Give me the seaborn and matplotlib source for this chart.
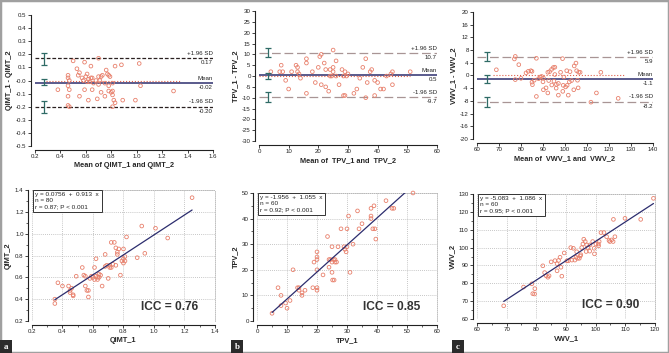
import numpy as np
import pandas as pd
import matplotlib
matplotlib.use('Agg')
import matplotlib.pyplot as plt
from matplotlib.ticker import AutoMinorLocator, FormatStrFormatter
from matplotlib.patches import Rectangle
import seaborn as sns

# Bland-Altman data (mean of the two readings, difference)
qimt_ba_mean = [0.46, 0.46, 0.47, 0.46, 0.47, 0.46, 0.46, 0.47, 0.38, 0.50,
                0.53, 0.54, 0.55, 0.59, 0.58, 0.59, 0.60, 0.61, 0.62, 0.62,
                0.64, 0.64, 0.65, 0.61, 0.69, 0.70, 0.70, 0.71, 0.70, 0.72,
                0.73, 0.75, 0.76, 0.77, 0.78, 0.78, 0.79, 0.78, 0.80, 0.81,
                0.81, 0.82, 0.81, 0.83, 0.83, 0.88, 0.89, 0.99, 1.02, 1.03,
                1.29, 0.72, 0.68, 0.65, 0.55, 0.75, 0.66, 0.57, 0.81, 0.63]
qimt_ba_diff = [0.04, 0.02, 0.00, -0.04, -0.07, -0.12, -0.19, -0.20, -0.07, 0.15,
                0.09, 0.04, -0.12, 0.14, 0.00, -0.07, 0.03, 0.05, 0.01, -0.15,
                0.11, 0.02, -0.07, -0.01, -0.14, 0.17, 0.03, 0.00, -0.03, 0.03,
                0.04, -0.12, 0.08, 0.05, 0.04, -0.08, 0.03, -0.04, -0.09, -0.02,
                -0.11, -0.15, -0.20, -0.17, 0.11, 0.12, -0.15, -0.15, 0.13, -0.04,
                -0.08, -0.09, 0.00, 0.02, 0.06, -0.02, -0.02, 0.02, -0.08, -0.01]

tpv_ba_mean = [4, 7.5, 7, 8, 9, 10, 11, 12.5, 13, 13, 13.5, 16, 16, 16, 20,
               20.5, 21, 21, 22, 22.5, 22.5, 23.5, 24, 24, 25, 25, 25, 24.5, 27, 28,
               28.5, 29, 28.5, 29, 32, 33, 36, 36.5, 36, 37.5, 38, 39, 39, 40, 41,
               42, 44.5, 45, 45, 51, 26, 29.5, 18, 14, 34, 30, 19, 43, 35, 26]
tpv_ba_diff = [2, 5, 2, 2, -2, -6, 2, 5, 4, 2, 1, 8, 6, -8, 4,
               9, 10, -4, 6, 3, -5, -7, 3, 0, 12, 4, 2, 0, -4, 3,
               0, 2, -9, -9, -8, -6, 8, -3, -10, 2, 3, -9, -2, -3, -6,
               -6, 1, 2, -4, 2, 0, 0, 2, -1, -1, 1, -3, 0, 4, 7]

vwv_ba_mean = [77.4, 77, 79, 68.8, 77.4, 80, 82.3, 83.3, 84.5, 85,
               87, 85, 85.2, 87, 88.7, 89.4, 90.2, 90.2, 91.4, 92.2,
               92.6, 92.2, 93, 93.9, 94.7, 95.4, 95, 96.1, 97, 98,
               98.9, 99.5, 99.2, 100.3, 101, 100.8, 101.5, 102.3, 103, 104.2,
               105, 105.3, 106.2, 106, 105.7, 106.9, 111.8, 114.3, 116.3, 124.2,
               95.4, 88, 96, 94, 102, 97, 90, 104, 86, 99]
vwv_ba_diff = [6, 5.2, 3.4, 1.8, -1.3, -0.9, 0.8, 1.3, 1.5, 1.3,
               5.4, -2.1, -2.9, -6.6, -0.5, -0.3, -0.8, -4.5, -3.9, -5.5,
               -1.6, 1, 1.2, 1.9, 2.5, 2.6, -1.8, -2.8, -6.2, 1,
               5.3, -0.5, -3.1, -3.6, -3.1, 1.5, -6.2, 1.2, -1.6, 3,
               3.9, 1.5, 1, -3.9, -1.5, 1, -8.4, -5.5, 1, -7.2,
               0.3, -1, -4, -3, -2, -2.5, -2, -4.5, -1.5, -5]

# limits of agreement: upper, mean, lower
qimt_loa = [0.17, -0.02, -0.20]
tpv_loa = [10.7, 0.5, -9.7]
vwv_loa = [5.9, -1.1, -8.2]
qimt_loa_txt = ['0.17', '-0.02', '-0.20']
tpv_loa_txt = ['10.7', '0.5', '-9.7']
vwv_loa_txt = ['5.9', '-1.1', '-8.2']
# confidence intervals (low, high) for each limit
qimt_ci = [(0.12, 0.21), (-0.035, 0.01), (-0.245, -0.16)]
tpv_ci = [(8.6, 12.8), (-1.4, 1.5), (-12.2, -7.5)]
vwv_ci = [(4.4, 7.4), (-2.3, 0.1), (-9.9, -6.7)]
ci_x = [0.27, 3, 64.5]
zero_span = [(0.29, 1.35), (0, 51), (67.5, 127)]

# scatter data (first reading, second reading)
qimt_1 = [0.35, 0.35, 0.37, 0.40, 0.44, 0.45, 0.45, 0.47, 0.47, 0.49,
          0.53, 0.55, 0.55, 0.56, 0.57, 0.58, 0.61, 0.62, 0.62, 0.63,
          0.64, 0.64, 0.66, 0.68, 0.69, 0.70, 0.71, 0.72, 0.72, 0.74,
          0.75, 0.75, 0.76, 0.76, 0.78, 0.80, 0.80, 0.80, 0.81, 0.82,
          0.89, 0.92, 0.94, 1.01, 1.09, 1.25, 0.60, 0.61, 0.65, 0.71,
          0.79, 0.46, 0.57, 0.63, 0.73, 0.68, 0.54, 0.59, 0.77, 0.81]
qimt_2 = [0.36, 0.40, 0.55, 0.52, 0.52, 0.48, 0.46, 0.44, 0.43, 0.61,
          0.69, 0.61, 0.52, 0.48, 0.42, 0.59, 0.69, 0.77, 0.61, 0.58,
          0.63, 0.60, 0.52, 0.81, 0.71, 0.59, 0.69, 0.92, 0.69, 0.92,
          0.71, 0.87, 0.83, 0.81, 0.62, 0.86, 0.77, 0.73, 0.79, 0.97,
          0.78, 1.07, 0.82, 1.05, 0.96, 1.33, 0.60, 0.58, 0.62, 0.71,
          0.75, 0.50, 0.48, 0.60, 0.72, 0.70, 0.62, 0.61, 0.86, 0.75]

tpv_1 = [5, 7, 8, 8, 9.5, 10, 12, 13.5, 14, 15, 15, 18.6, 19, 20, 20,
         20, 20, 20, 22, 23.5, 24, 24.5, 25, 25, 25.2, 25.7, 25.5, 26, 26.5, 28,
         29.3, 29.7, 30, 30.5, 31, 33.5, 35, 38, 38, 38, 38.6, 39.3, 39.6, 39, 43,
         45, 45.6, 52, 26, 24, 30, 16, 11, 25, 34, 14, 27, 32, 20, 29]
tpv_2 = [3, 13, 10, 6, 7, 5, 20, 13, 12, 11, 10, 13, 23, 24, 25,
         27, 12, 13, 18, 33, 21, 24, 29, 19, 16, 16, 24, 23, 23, 36,
         28, 27, 36, 41, 19, 43, 38, 44, 41, 40, 36, 36, 32, 45, 47,
         44, 44, 50, 24, 24, 29, 12, 8, 23, 36, 13, 29, 30, 20, 29]

vwv_1 = [69, 75.7, 78.5, 78.8, 79.4, 79.5, 82.2, 82.8, 83.3, 83.9,
         84.3, 85, 86.3, 87, 87.5, 88, 88.3, 88.6, 89.4, 90.3,
         90.8, 91.6, 92.5, 93, 93.4, 93.6, 93.9, 94.5, 94.8, 95.3,
         95.7, 96, 96.5, 97, 96.8, 97.4, 98.1, 99, 99.5, 99.6,
         100.1, 100.9, 101.2, 101.8, 102.8, 103.7, 104.5, 104.8, 105.4, 106,
         106.5, 105.9, 109.9, 115.2, 119.5, 95, 92, 101, 87, 98]
vwv_2 = [67.4, 77.9, 79.7, 74.2, 74, 77, 89.8, 86, 84.2, 83.4,
         84.2, 92, 92.7, 91, 92.8, 94.6, 89, 84, 97, 92.6,
         92.6, 100, 99.6, 93, 94.6, 97.7, 94, 94, 95.3, 100,
         102, 104.7, 103.4, 101.5, 97.8, 100, 101.5, 103.4, 99.6, 96.5,
         102, 102, 103.4, 108.4, 108.4, 106.1, 104, 103.4, 104.3, 115.8,
         106.1, 103.4, 116.4, 115.8, 127.6, 96, 93, 101, 87, 98]

# regression results
fits = [(0.0756, 0.913, 0.35, 1.25), (-1.956, 1.055, 5, 49.5), (-5.083, 1.086, 69, 119.5)]
fit_txt = ['y = 0.0756  +  0.913  x\nn = 80\nr = 0.87; P < 0.001',
           'y = -1.956  +  1.055  x\nn = 60\nr = 0.92; P < 0.001',
           'y = -5.083  +  1.086  x\nn = 60\nr = 0.95; P < 0.001']
icc_txt = ['ICC = 0.76', 'ICC = 0.85', 'ICC = 0.90']

sns.set_style('ticks')
plt.rcParams['font.family'] = ['Liberation Sans', 'DejaVu Sans']
plt.rcParams['axes.unicode_minus'] = False

pt_col = '#e8806c'
navy = '#2c2d6e'
teal = '#2f6b66'
grid_col = '#b4b4b4'

fig = plt.figure(figsize=(6.69, 3.53), dpi=100)

top_pos = [[0.0523, 0.5864, 0.266, 0.371],
           [0.3871, 0.6006, 0.266, 0.368],
           [0.713, 0.6062, 0.263, 0.36]]
bot_pos = [[0.0478, 0.0907, 0.2735, 0.371],
           [0.3842, 0.0907, 0.269, 0.3626],
           [0.713, 0.0963, 0.266, 0.354]]

ba_sets = [
    (qimt_ba_mean, qimt_ba_diff, qimt_loa, qimt_loa_txt, qimt_ci,
     (0.2, 1.6, 0.2), (-0.5, 0.5, 0.1), '%.1f', 'QIMT_1 - QIMT_2', 'Mean of QIMT_1 and QIMT_2', '#2a2020'),
    (tpv_ba_mean, tpv_ba_diff, tpv_loa, tpv_loa_txt, tpv_ci,
     (0, 60, 10), (-30, 30, 5), '%d', 'TPV_1 - TPV_2', 'Mean of  TPV_1 and  TPV_2', '#a89595'),
    (vwv_ba_mean, vwv_ba_diff, vwv_loa, vwv_loa_txt, vwv_ci,
     (60, 140, 10), (-20, 20, 4), '%d', 'VWV_1 - VWV_2', 'Mean of  VWV_1 and  VWV_2', '#a89595'),
]

tick_fs = 4.4
lab_fs = 5.3

for i, (mx, dy, loa, loa_txt, ci, xr, yr, fmt, ylab, xlab, lim_col) in enumerate(ba_sets):
    ax = fig.add_axes(top_pos[i])
    df = pd.DataFrame({'m': mx, 'd': dy})
    sns.scatterplot(data=df, x='m', y='d', ax=ax, marker='o', s=7,
                    facecolors='none', edgecolor=pt_col, linewidth=0.6, zorder=3)
    ax.set_xlim(xr[0], xr[1])
    ax.set_ylim(yr[0], yr[1])
    ax.set_xticks(np.round(np.arange(xr[0], xr[1] + xr[2] / 2, xr[2]), 2))
    ax.set_yticks(np.round(np.arange(yr[0], yr[1] + yr[2] / 2, yr[2]), 2))
    ax.xaxis.set_major_formatter(FormatStrFormatter(fmt))
    ax.yaxis.set_major_formatter(FormatStrFormatter(fmt))
    # limits and mean
    if i == 0:
        dash = (3, 1.5)
    else:
        dash = (7, 3)
    ax.axhline(loa[0], color=lim_col, lw=0.9, dashes=dash, zorder=2)
    ax.axhline(loa[2], color=lim_col, lw=0.9, dashes=dash, zorder=2)
    ax.axhline(loa[1], color=navy, lw=1.1, zorder=2)
    ax.plot(zero_span[i], [0, 0], color='#e0604a', lw=0.8, ls=':', zorder=2)
    for lo, hi in ci:
        ax.errorbar(ci_x[i], (lo + hi) / 2, yerr=(hi - lo) / 2, color=teal,
                    lw=0.9, capsize=2.5, capthick=0.9, zorder=4)
    tops = ['+1.96 SD', 'Mean', '-1.96 SD']
    for val, t1, t2 in zip(loa, tops, loa_txt):
        ax.annotate(t1, xy=(xr[1], val), xytext=(0, 1.6), textcoords='offset points',
                    ha='right', va='bottom', fontsize=tick_fs, color='#222222')
        ax.annotate(t2, xy=(xr[1], val), xytext=(0, -1.6), textcoords='offset points',
                    ha='right', va='top', fontsize=tick_fs, color='#222222')
    sns.despine(ax=ax)
    ax.spines['left'].set_position(('outward', 3))
    ax.spines['bottom'].set_position(('outward', 3))
    for s in ['left', 'bottom']:
        ax.spines[s].set_linewidth(0.8)
        ax.spines[s].set_color('#222222')
    ax.tick_params(labelsize=tick_fs, length=2, width=0.6, pad=1, colors='#222222')
    ax.set_xlabel(xlab, fontsize=lab_fs, fontweight='bold', labelpad=2)
    ax.set_ylabel(ylab, fontsize=lab_fs, fontweight='bold', labelpad=2)

sc_sets = [
    (qimt_1, qimt_2, (0.2, 1.4, 0.2), (0.2, 1.4, 0.2), '%.1f', 'QIMT_1', 'QIMT_2'),
    (tpv_1, tpv_2, (0, 60, 10), (0, 50, 10), '%d', 'TPV_1', 'TPV_2'),
    (vwv_1, vwv_2, (60, 120, 10), (60, 130, 10), '%d', 'VWV_1', 'VWV_2'),
]

for i, (xv, yv, xr, yr, fmt, xlab, ylab) in enumerate(sc_sets):
    ax = fig.add_axes(bot_pos[i])
    df = pd.DataFrame({'x': xv, 'y': yv})
    sns.scatterplot(data=df, x='x', y='y', ax=ax, marker='o', s=7,
                    facecolors='none', edgecolor=pt_col, linewidth=0.6, zorder=3,
                    clip_on=False)
    a, b, x0, x1 = fits[i]
    line_df = pd.DataFrame({'x': [x0, x1], 'y': [a + b * x0, a + b * x1]})
    sns.lineplot(data=line_df, x='x', y='y', ax=ax, color=navy, lw=0.9, zorder=4)
    ax.set_xlim(xr[0], xr[1])
    ax.set_ylim(yr[0], yr[1])
    ax.set_xticks(np.round(np.arange(xr[0], xr[1] + xr[2] / 2, xr[2]), 2))
    ax.set_yticks(np.round(np.arange(yr[0], yr[1] + yr[2] / 2, yr[2]), 2))
    ax.xaxis.set_major_formatter(FormatStrFormatter(fmt))
    ax.yaxis.set_major_formatter(FormatStrFormatter(fmt))
    ax.xaxis.set_minor_locator(AutoMinorLocator(2))
    ax.yaxis.set_minor_locator(AutoMinorLocator(2))
    ax.grid(True, which='major', color=grid_col, lw=0.6, ls=(0, (1, 1.5)))
    ax.set_axisbelow(True)
    # dotted frame on top and right, like the grid
    for s in ['top', 'right']:
        ax.spines[s].set_linestyle((0, (1, 1.5)))
        ax.spines[s].set_color(grid_col)
        ax.spines[s].set_linewidth(0.6)
    ax.spines['left'].set_position(('outward', 3))
    ax.spines['bottom'].set_position(('outward', 3))
    for s in ['left', 'bottom']:
        ax.spines[s].set_linewidth(0.8)
        ax.spines[s].set_color('#222222')
    ax.tick_params(which='major', labelsize=tick_fs, length=2, width=0.6, pad=1, colors='#222222')
    ax.tick_params(which='minor', length=1.2, width=0.5, colors='#222222')
    ax.set_xlabel(xlab, fontsize=lab_fs, fontweight='bold', labelpad=2)
    ax.set_ylabel(ylab, fontsize=lab_fs, fontweight='bold', labelpad=2)
    ax.text(0.018, 0.982, fit_txt[i], transform=ax.transAxes, ha='left', va='top',
            fontsize=4.6, linespacing=1.25, color='#222222',
            bbox=dict(boxstyle='square,pad=0.4', fc='white', ec='#333333', lw=0.7), zorder=6)
    ax.text(0.75, 0.11, icc_txt[i], transform=ax.transAxes, ha='center', va='center',
            fontsize=8.6, fontweight='bold', color='#333333', zorder=6)

# panel letters
for lab, xpos in zip(['a', 'b', 'c'], [0.0, 0.346, 0.676]):
    fig.patches.append(Rectangle((xpos, 0.0), 0.0175, 0.037, transform=fig.transFigure,
                                 fc='#2b2b2b', ec='none', zorder=10))
    fig.text(xpos + 0.0088, 0.017, lab, ha='center', va='center', color='white',
             fontsize=6.5, fontweight='bold', family=['Liberation Serif', 'DejaVu Serif'], zorder=11)

# outer frame
fig.patches.append(Rectangle((0, 0), 1, 1, transform=fig.transFigure, fill=False,
                             ec='#a0a0a0', lw=2.5, zorder=9))

fig.savefig('out.png', dpi=100)
